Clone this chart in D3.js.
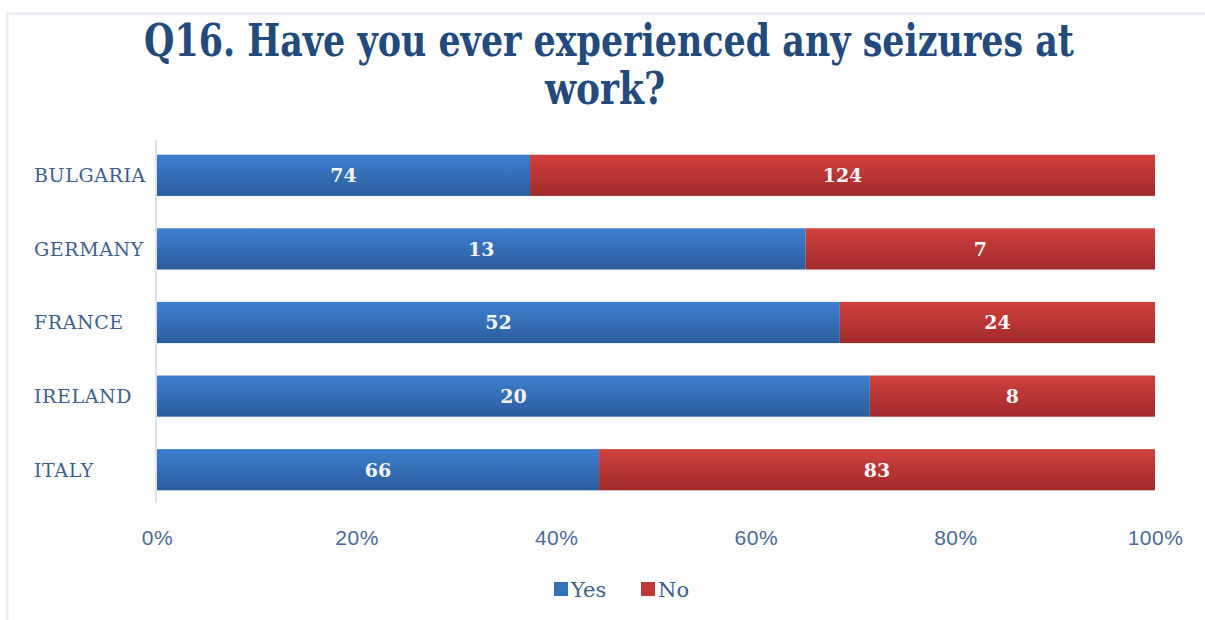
<!DOCTYPE html>
<html>
<head>
<meta charset="utf-8">
<script src="https://cdn.jsdelivr.net/npm/d3@7"></script>
<style>
  html, body { margin: 0; padding: 0; background: #fff; }
  svg { display: block; }
</style>
</head>
<body>
<svg id="chart" width="1205" height="620"></svg>
<script>
// Survey answers per country
const categories = ["BULGARIA", "GERMANY", "FRANCE", "IRELAND", "ITALY"];
const yesValues = [74, 13, 52, 20, 66];
const noValues = [124, 7, 24, 8, 83];
const seriesNames = ["Yes", "No"];
const tickValues = [0, 0.2, 0.4, 0.6, 0.8, 1];
const titleLines = ["Q16. Have you ever experienced any seizures at", "work?"];

const W = 1205, H = 620;
const svg = d3.select("#chart");

const serif = "'DejaVu Serif', 'Liberation Serif', serif";
const labelColor = "#3E5E8C";

// Outer frame
svg.append("rect")
  .attr("x", 7.5).attr("y", 13.5)
  .attr("width", W).attr("height", H)
  .attr("fill", "none")
  .attr("stroke", "#E4EAF3")
  .attr("stroke-width", 2);

// Gradients for bars
const defs = svg.append("defs");
function grad(id, top, bottom) {
  const g = defs.append("linearGradient").attr("id", id)
    .attr("x1", 0).attr("y1", 0).attr("x2", 0).attr("y2", 1);
  g.append("stop").attr("offset", "0%").attr("stop-color", top);
  g.append("stop").attr("offset", "100%").attr("stop-color", bottom);
}
grad("gYes", "#3D80D0", "#2C5C9C");
grad("gNo", "#D0413E", "#A02A2A");
const fills = { Yes: "url(#gYes)", No: "url(#gNo)" };
const swatch = { Yes: "#3470BA", No: "#BE3836" };

// Title: condensed bold serif, each line squeezed horizontally to its width
const titleSpec = [
  { cx: 609, base: 56, width: 930 },
  { cx: 605, base: 104, width: 120 }
];
titleLines.forEach((line, i) => {
  const spec = titleSpec[i];
  const g = svg.append("g");
  const t = g.append("text")
    .attr("x", 0).attr("y", 0)
    .attr("text-anchor", "middle")
    .attr("fill", "#234A7C")
    .attr("font-family", "'DejaVu Serif Condensed', 'DejaVu Serif', serif")
    .attr("font-weight", "bold")
    .attr("font-size", 45)
    .text(line);
  const natural = t.node().getComputedTextLength();
  const sx = spec.width / natural;
  g.attr("transform", `translate(${spec.cx},${spec.base}) scale(${sx},1)`);
});

// Scales
const x = d3.scaleLinear().domain([0, 1]).range([157, 1155]);
const y = d3.scaleBand().domain(categories).range([138.5, 506.5])
  .paddingInner(0.44).paddingOuter(0.22);

// Stack into shares
const rows = categories.map((c, i) => ({ cat: c, Yes: yesValues[i], No: noValues[i], total: yesValues[i] + noValues[i] }));
const stack = d3.stack().keys(seriesNames)
  .value((d, k) => d[k] / d.total);
const layers = stack(rows);

// Left axis line
svg.append("line")
  .attr("x1", 156).attr("x2", 156)
  .attr("y1", 140).attr("y2", 503)
  .attr("stroke", "#DCE3EE").attr("stroke-width", 2);

// Bars
const layerG = svg.selectAll("g.layer").data(layers).join("g")
  .attr("class", "layer");
layerG.selectAll("rect").data(d => d.map(s => ({ s, key: d.key })))
  .join("rect")
  .attr("x", d => x(d.s[0]))
  .attr("y", d => y(d.s.data.cat))
  .attr("width", d => x(d.s[1]) - x(d.s[0]))
  .attr("height", y.bandwidth())
  .attr("fill", d => fills[d.key]);

// Value labels
layerG.selectAll("text").data(d => d.map(s => ({ s, key: d.key })))
  .join("text")
  .attr("x", d => (x(d.s[0]) + x(d.s[1])) / 2)
  .attr("y", d => y(d.s.data.cat) + y.bandwidth() / 2)
  .attr("dy", "0.36em")
  .attr("text-anchor", "middle")
  .attr("fill", "#F4F6FA")
  .attr("font-family", serif)
  .attr("font-weight", "bold")
  .attr("font-size", 19)
  .text(d => d.s.data[d.key]);

// Category labels
svg.append("g").selectAll("text").data(categories).join("text")
  .attr("x", 34)
  .attr("y", d => y(d) + y.bandwidth() / 2)
  .attr("dy", "0.36em")
  .attr("fill", labelColor)
  .attr("font-family", serif)
  .attr("font-size", 19)
  .attr("letter-spacing", 0.6)
  .text(d => d);

// Bottom axis ticks
const xAxis = d3.axisBottom(x).tickValues(tickValues)
  .tickFormat(d3.format(".0%")).tickSize(0).tickPadding(0);
const axG = svg.append("g").attr("transform", "translate(0,537)").call(xAxis);
axG.select(".domain").remove();
axG.selectAll("text")
  .attr("dy", "0.36em")
  .attr("fill", "#4A6A98")
  .attr("font-family", "'Liberation Sans', Arial, sans-serif")
  .attr("font-size", 21)
  .attr("letter-spacing", 0.5);

// Legend
const legend = svg.append("g").attr("font-family", serif)
  .attr("font-size", 21).attr("fill", labelColor);
const legendX = { Yes: 554, No: 641 };
seriesNames.forEach(k => {
  legend.append("rect")
    .attr("x", legendX[k]).attr("y", 582)
    .attr("width", 14).attr("height", 14)
    .attr("fill", swatch[k]);
  legend.append("text")
    .attr("x", legendX[k] + 17).attr("y", 589)
    .attr("dy", "0.36em")
    .text(k);
});
</script>
</body>
</html>
